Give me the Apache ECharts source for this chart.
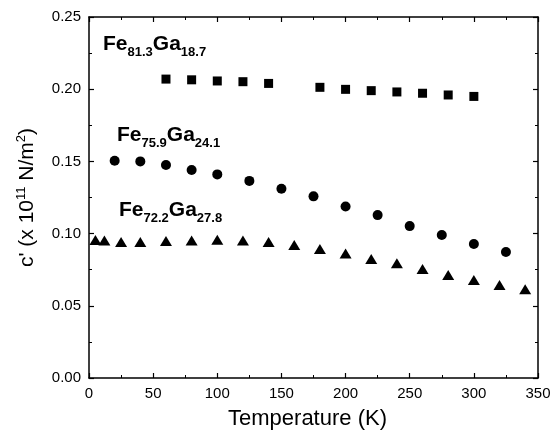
<!DOCTYPE html>
<html>
<head>
<meta charset="utf-8">
<script src="https://cdn.jsdelivr.net/npm/echarts@6/dist/echarts.min.js"></script>
<style>
html,body{margin:0;padding:0;background:#fff;}
#chart{width:559px;height:435px;}
</style>
</head>
<body>
<div id="chart"></div>
<script>
// Fe81.3Ga18.7 (squares)
var tempSq = [60, 80, 100, 120, 140, 180, 200, 220, 240, 260, 280, 300];
var cSq = [0.207, 0.2065, 0.2057, 0.2052, 0.2040, 0.2013, 0.1999, 0.1990, 0.1981, 0.1972, 0.1960, 0.1950];
// Fe75.9Ga24.1 (circles)
var tempCi = [20, 40, 60, 80, 100, 125, 150, 175, 200, 225, 250, 275, 300, 325];
var cCi = [0.1505, 0.1500, 0.1475, 0.1440, 0.1410, 0.1365, 0.1310, 0.1258, 0.1188, 0.1128, 0.1052, 0.0990, 0.0928, 0.0873];
// Fe72.2Ga27.8 (triangles)
var tempTr = [5, 12, 25, 40, 60, 80, 100, 120, 140, 160, 180, 200, 220, 240, 260, 280, 300, 320, 340];
var cTr = [0.0955, 0.0952, 0.0942, 0.0942, 0.0948, 0.0953, 0.0958, 0.0952, 0.0942, 0.0921, 0.0893, 0.0863, 0.0824, 0.0794, 0.0755, 0.0713, 0.0679, 0.0644, 0.0614];

var xTicks = [0, 50, 100, 150, 200, 250, 300, 350];
var yTicks = [0.00, 0.05, 0.10, 0.15, 0.20, 0.25];

function pairs(xs, ys) { return xs.map(function (x, i) { return [x, ys[i]]; }); }

var FONT = '"Liberation Sans", Arial, sans-serif';
var chart = echarts.init(document.getElementById('chart'));

function xAx(pos, showLabel) {
  return {
    type: 'value', position: pos, min: xTicks[0], max: xTicks[xTicks.length - 1], interval: 50,
    axisLine: { show: true, onZero: false, lineStyle: { color: '#000', width: 1.5 } },
    axisTick: { show: true, inside: true, length: 5, lineStyle: { color: '#000', width: 1.2 } },
    minorTick: { show: true, splitNumber: 2, length: 3, lineStyle: { color: '#000', width: 1 } },
    splitLine: { show: false },
    axisLabel: { show: showLabel, color: '#000', fontFamily: FONT, fontSize: 15, margin: 8 },
    name: showLabel ? 'Temperature (K)' : '', nameLocation: 'middle', nameGap: 30,
    nameTextStyle: { color: '#000', fontFamily: FONT, fontSize: 22, padding: [0, 12, 0, 0] }
  };
}
function yAx(pos, showLabel) {
  return {
    type: 'value', position: pos, min: yTicks[0], max: yTicks[yTicks.length - 1], interval: 0.05,
    axisLine: { show: true, onZero: false, lineStyle: { color: '#000', width: 1.5 } },
    axisTick: { show: true, inside: true, length: 5, lineStyle: { color: '#000', width: 1.2 } },
    minorTick: { show: true, splitNumber: 2, length: 3, lineStyle: { color: '#000', width: 1 } },
    splitLine: { show: false },
    axisLabel: { show: showLabel, color: '#000', fontFamily: FONT, fontSize: 15, margin: 8,
      formatter: function (v) { return v.toFixed(2); } },
    name: showLabel ? "{n|c' (x 10}{s|11}{n| N/m}{s|2}{n|)}" : '', nameLocation: 'middle', nameGap: 50, nameRotate: 90,
    nameTextStyle: { color: '#000', fontFamily: FONT, fontSize: 21,
      rich: {
        n: { fontFamily: FONT, fontSize: 21, color: '#000', lineHeight: 24 },
        s: { fontFamily: FONT, fontSize: 13, color: '#000', verticalAlign: 'top', lineHeight: 10 }
      } }
  };
}

function label(text1, sub1, text2, sub2) {
  return '{m|' + text1 + '}{s|' + sub1 + '}{m|' + text2 + '}{s|' + sub2 + '}';
}
var richLab = {
  m: { fontFamily: FONT, fontSize: 21, fontWeight: 'bold', color: '#000', lineHeight: 29 },
  s: { fontFamily: FONT, fontSize: 13, fontWeight: 'bold', color: '#000', verticalAlign: 'bottom', lineHeight: 2 }
};

chart.setOption({
  animation: false,
  backgroundColor: '#fff',
  grid: { left: 89, right: 21, top: 17, bottom: 57 },
  xAxis: [xAx('bottom', true), xAx('top', false)],
  yAxis: [yAx('left', true), yAx('right', false)],
  series: [
    { type: 'scatter', data: pairs(tempSq, cSq), symbol: 'rect', symbolSize: 9, itemStyle: { color: '#000', opacity: 1 } },
    { type: 'scatter', data: pairs(tempCi, cCi), symbol: 'circle', symbolSize: 10, itemStyle: { color: '#000', opacity: 1 } },
    { type: 'scatter', data: pairs(tempTr, cTr), symbol: 'triangle', symbolSize: [12, 10], itemStyle: { color: '#000', opacity: 1 } }
  ],
  graphic: [
    { type: 'text', left: 103, top: 34, style: { text: label('Fe', '81.3', 'Ga', '18.7'), rich: richLab } },
    { type: 'text', left: 117, top: 125, style: { text: label('Fe', '75.9', 'Ga', '24.1'), rich: richLab } },
    { type: 'text', left: 119, top: 200, style: { text: label('Fe', '72.2', 'Ga', '27.8'), rich: richLab } }
  ]
});
</script>
</body>
</html>
